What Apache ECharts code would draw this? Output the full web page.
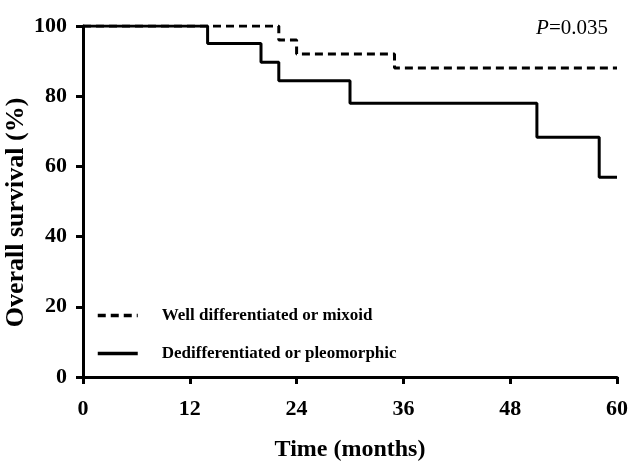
<!DOCTYPE html>
<html>
<head>
<meta charset="utf-8">
<script src="https://cdn.jsdelivr.net/npm/echarts@6/dist/echarts.min.js"></script>
<style>
  html, body { margin: 0; padding: 0; background: #fff; }
  #chart { width: 630px; height: 461px; }
</style>
</head>
<body>
<div id="chart"></div>
<script>
// Kaplan-Meier steps: [month, survival %]
var wellTimes = [0, 22, 24, 35, 60];
var wellSurv = [100, 96, 92, 88, 88];
var dediffTimes = [0, 14, 20, 22, 30, 51, 58, 60];
var dediffSurv = [100, 95, 89.7, 84.4, 78, 68.3, 56.9, 56.9];
var xTicks = [0, 12, 24, 36, 48, 60];
var yTicks = [0, 20, 40, 60, 80, 100];
var seriesNames = ['Well differentiated or mixoid', 'Dedifferentiated or pleomorphic'];
var pValue = '0.035';

function pairs(xs, ys) {
  return xs.map(function (x, i) { return [x, ys[i]]; });
}

var font = '"Liberation Serif", "Times New Roman", serif';
var chart = echarts.init(document.getElementById('chart'), null, { renderer: 'canvas' });

var axisCommon = {
  axisLine: { show: true, onZero: false, lineStyle: { color: '#000', width: 3 } },
  axisTick: { show: true, inside: false, length: 7, lineStyle: { color: '#000', width: 3 } },
  splitLine: { show: false },
  nameLocation: 'middle',
  nameMoveOverlap: false,
  nameTextStyle: { fontFamily: font, fontWeight: 'bold', color: '#000' },
  axisLabel: { fontFamily: font, fontWeight: 'bold', fontSize: 22, color: '#000' }
};

var option = {
  animation: false,
  backgroundColor: '#fff',
  grid: { left: 83, right: 13, top: 26, bottom: 84, containLabel: false, outerBoundsMode: 'none' },
  legend: {
    orient: 'vertical',
    left: 96,
    top: 307,
    padding: 0,
    itemWidth: 40,
    itemHeight: 14,
    itemGap: 21,
    data: seriesNames,
    itemStyle: { opacity: 0 },
    lineStyle: { width: 3.5 },
    textStyle: { fontFamily: font, fontWeight: 'bold', fontSize: 17, color: '#000', padding: [0, 0, 0, 19] }
  },
  xAxis: Object.assign({}, axisCommon, {
    type: 'value',
    min: 0, max: 60, interval: 12,
    name: 'Time (months)',
    nameGap: 61,
    nameTextStyle: Object.assign({}, axisCommon.nameTextStyle, { fontSize: 24 }),
    axisLabel: Object.assign({}, axisCommon.axisLabel, {
      margin: 21,
      formatter: function (v) { return xTicks.indexOf(v) >= 0 ? String(v) : ''; }
    })
  }),
  yAxis: Object.assign({}, axisCommon, {
    type: 'value',
    min: 0, max: 100, interval: 20,
    name: 'Overall survival (%)',
    nameGap: 54,
    nameTextStyle: Object.assign({}, axisCommon.nameTextStyle, { fontSize: 26, padding: [0, 22, 0, 0] }),
    axisLabel: Object.assign({}, axisCommon.axisLabel, {
      margin: 16,
      formatter: function (v) { return yTicks.indexOf(v) >= 0 ? String(v) : ''; }
    })
  }),
  graphic: [{
    type: 'text',
    right: 22,
    top: 18,
    style: {
      text: '{i|P}=' + pValue,
      rich: { i: { fontStyle: 'italic', fontFamily: font, fontSize: 21, fill: '#000' } },
      fontFamily: font,
      fontSize: 21,
      fill: '#000'
    }
  }],
  series: [
    {
      name: seriesNames[0],
      type: 'line',
      step: 'end',
      symbol: 'none',
      data: pairs(wellTimes, wellSurv),
      lineStyle: { color: '#000', width: 3, type: [8, 5] },
      itemStyle: { color: '#000' },
      z: 3
    },
    {
      name: seriesNames[1],
      type: 'line',
      step: 'end',
      symbol: 'none',
      data: pairs(dediffTimes, dediffSurv),
      lineStyle: { color: '#000', width: 3, type: 'solid' },
      itemStyle: { color: '#000' },
      z: 2
    }
  ]
};

chart.setOption(option);
</script>
</body>
</html>
